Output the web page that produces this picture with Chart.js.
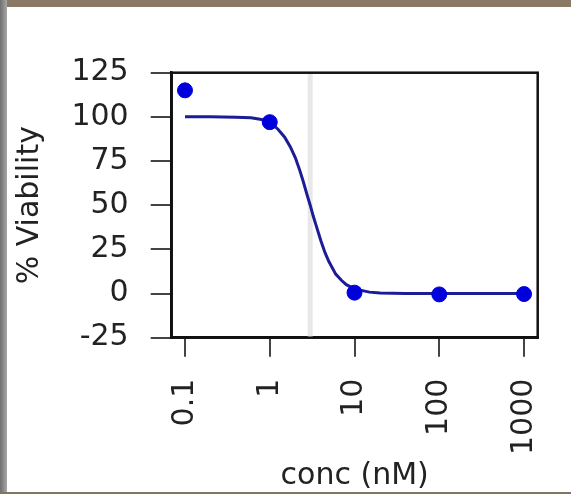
<!DOCTYPE html>
<html>
<head>
<meta charset="utf-8">
<script src="https://cdn.jsdelivr.net/npm/chart.js@4.4.1/dist/chart.umd.min.js"></script>
<style>
  body { margin: 0; background: #fff; }
  #wrap { position: relative; width: 571px; height: 494px; overflow: hidden; }
  #top-strip { position: absolute; left: 0; top: 0; width: 571px; height: 7px; background: #8a7965; }
  #left-strip { position: absolute; left: 0; top: 0; width: 7px; height: 494px;
    background: linear-gradient(to right, #6e6e6e, #a8a8a8); }
  #bottom-strip { position: absolute; left: 0; top: 492px; width: 571px; height: 2px; background: #857560; }
</style>
</head>
<body>
<div id="wrap">
  <canvas id="chart" width="571" height="494"></canvas>
  <div id="top-strip"></div>
  <div id="left-strip"></div>
  <div id="bottom-strip"></div>
</div>
<script>
// measured points
const conc = [0.1, 1, 10, 100, 1000];
const viability = [115, 97, 0.5, -0.5, -0.3];

// fitted curve
const fitConc = [0.1, 0.2, 0.4, 0.6, 0.8, 1, 1.25, 1.5, 1.75, 2, 2.25, 2.5, 2.75, 3, 3.25, 3.5, 4, 4.5, 5, 6, 7, 8, 10, 15, 20, 40, 100, 1000];
const fitViability = [100, 100, 99.8, 99.5, 98.5, 97, 93, 88.5, 83, 77, 70, 63, 56, 50, 44, 39, 30, 23, 18, 11, 7.5, 5, 2.6, 0.8, 0.3, 0, 0, 0];

// IC50 marker (nM)
const ic50 = 3;

const xTicks = [0.1, 1, 10, 100, 1000];
const xTickLabels = ['0.1', '1', '10', '100', '1000'];
const yTicks = [-25, 0, 25, 50, 75, 100, 125];

const FONT = { family: 'DejaVu Sans', size: 30 };

// box around the plot
const frameBox = {
    id: 'frameBox',
    afterDraw(chart) {
        const a = chart.chartArea;
        const ctx = chart.ctx;
        ctx.save();
        ctx.strokeStyle = '#111';
        ctx.lineWidth = 2.5;
        ctx.strokeRect(a.left, a.top, a.right - a.left, a.bottom - a.top);
        ctx.restore();
    }
};

new Chart(document.getElementById('chart'), {
    type: 'scatter',
    data: {
        datasets: [
            {
                // points on top
                data: conc.map((c, i) => ({ x: c, y: viability[i] })),
                backgroundColor: '#0000dd',
                borderColor: '#0000dd',
                pointRadius: 7.5,
                showLine: false,
                order: 1
            },
            {
                data: fitConc.map((c, i) => ({ x: c, y: fitViability[i] })),
                borderColor: '#1c1c96',
                borderWidth: 3,
                pointRadius: 0,
                showLine: true,
                tension: 0,
                order: 2
            },
            {
                data: [{ x: ic50, y: yTicks[0] }, { x: ic50, y: yTicks[yTicks.length - 1] }],
                borderColor: '#e8e8e8',
                borderWidth: 5,
                pointRadius: 0,
                showLine: true,
                order: 3
            }
        ]
    },
    options: {
        responsive: false,
        animation: false,
        devicePixelRatio: 1,
        layout: { padding: { top: 72.7, right: 33.3, bottom: 0, left: 0 } },
        plugins: { legend: { display: false }, tooltip: { enabled: false } },
        scales: {
            x: {
                type: 'logarithmic',
                min: 0.0697,
                max: 1449,
                afterBuildTicks: axis => { axis.ticks = xTicks.map(v => ({ value: v })); },
                afterFit: axis => {
                    axis.height = 156.3;
                    axis.paddingLeft = 0;
                    axis.paddingRight = 0;
                },
                border: { display: true, color: '#111', width: 2.5 },
                grid: { display: true, drawOnChartArea: false, drawTicks: true, tickLength: 19, tickColor: '#444', lineWidth: 2 },
                ticks: {
                    autoSkip: false,
                    minRotation: 90,
                    maxRotation: 90,
                    padding: 22,
                    color: '#222',
                    font: FONT,
                    callback: (v, i) => xTickLabels[i]
                },
                title: { display: true, text: 'conc (nM)', color: '#222', font: FONT, padding: 0 }
            },
            y: {
                min: -25,
                max: 125,
                afterBuildTicks: axis => { axis.ticks = yTicks.map(v => ({ value: v })); },
                afterFit: axis => {
                    axis.width = 171.7;
                    axis.paddingTop = 0;
                    axis.paddingBottom = 0;
                },
                border: { display: true, color: '#111', width: 2.5 },
                grid: { display: true, drawOnChartArea: false, drawTicks: true, tickLength: 21, tickColor: '#444', lineWidth: 2 },
                ticks: { padding: 22, color: '#222', font: FONT },
                title: { display: true, text: '% Viability', color: '#222', font: FONT, padding: { top: 12 } }
            }
        }
    },
    plugins: [frameBox]
});
</script>
</body>
</html>
